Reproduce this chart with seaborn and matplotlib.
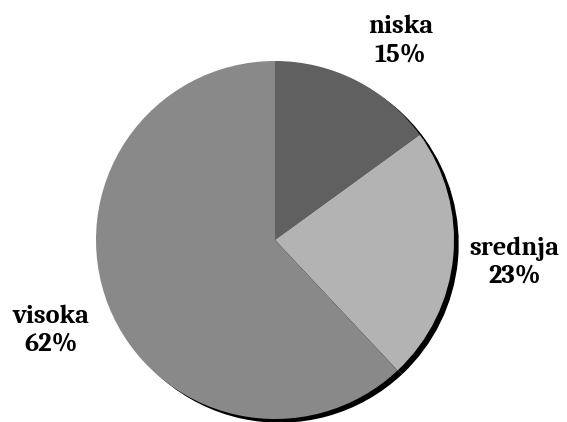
import matplotlib
matplotlib.use("Agg")
import matplotlib.pyplot as plt
import matplotlib.patches as mpatches
import seaborn as sns

# Share of each level
categories = ["niska", "srednja", "visoka"]
shares = [15, 23, 62]
colors = ["#606060", "#b3b3b3", "#898989"]

sns.set_theme(style="white")
plt.rcParams["font.family"] = ["Caladea", "DejaVu Serif"]

W, H, DPI = 567, 422, 100
fig = plt.figure(figsize=(W / DPI, H / DPI), dpi=DPI)
fig.patch.set_facecolor("white")

cx, cy, r = 275, 240, 179
ax = fig.add_axes([(cx - r) / W, (H - cy - r) / H, 2 * r / W, 2 * r / H])

labels = [f"{c}\n{v}%" for c, v in zip(categories, shares)]
wedges, texts = ax.pie(
    shares,
    labels=labels,
    colors=colors,
    startangle=90,
    counterclock=False,
    radius=1.0,
    labeldistance=1.345,
    wedgeprops=dict(linewidth=0, edgecolor="none", zorder=2),
    textprops=dict(fontsize=19, fontweight="bold", color="black"),
)

# small shifts so the top label sits clear of the pie rim
label_nudges = [(0.09, -0.085), (0.0, 0.0), (0.0, -0.01)]
for t, (dx, dy) in zip(texts, label_nudges):
    x, y = t.get_position()
    t.set_position((x + dx, y + dy))
    t.set_ha("center")
    t.set_va("center")
    t.set_multialignment("center")
    t.set_linespacing(1.2)

# Drop shadow beneath the whole pie
for w in wedges:
    sh = mpatches.Shadow(w, 0.019, -0.015, facecolor="black", edgecolor="none",
                         alpha=1.0)
    sh.set_zorder(1)
    ax.add_patch(sh)

ax.set_xlim(-1, 1)
ax.set_ylim(-1, 1)
ax.set_aspect("equal")
ax.axis("off")

fig.savefig("out.png", dpi=DPI, facecolor="white")
